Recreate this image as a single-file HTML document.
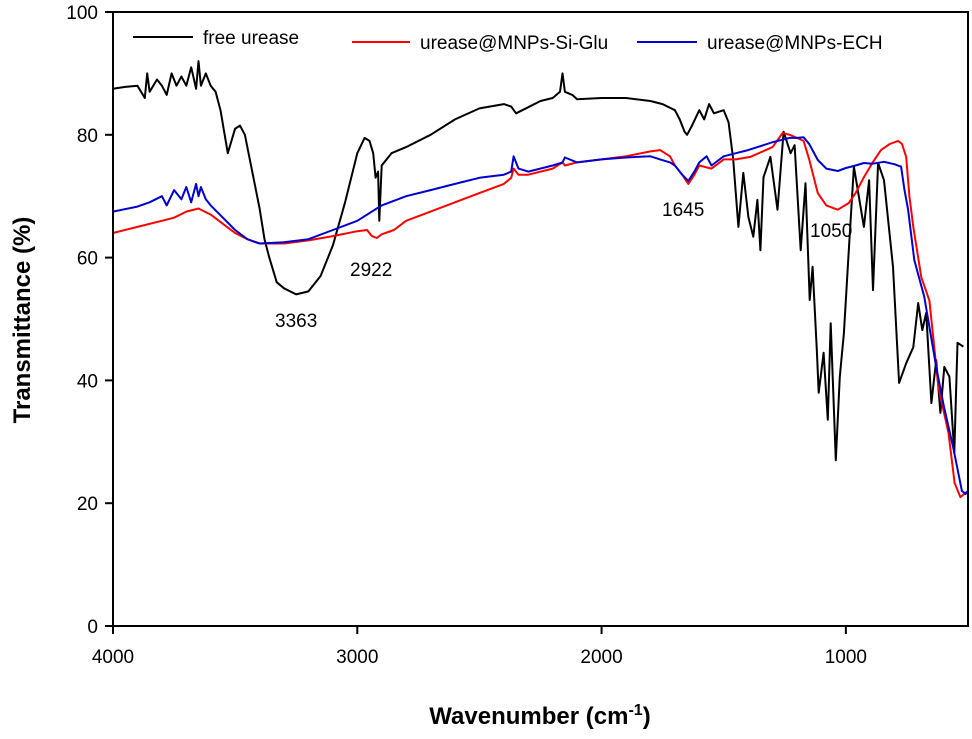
<!DOCTYPE html>
<html><head><meta charset="utf-8"><style>
body{margin:0;background:#fff;}
svg text{font-family:"Liberation Sans",Arial,sans-serif;}
</style></head><body>
<svg id="chart" width="972" height="734" viewBox="0 0 972 734" xmlns="http://www.w3.org/2000/svg">
<g id="plot"></g>
</svg>
<script>
const xTicks=[4000,3000,2000,1000];
const yTicks=[0,20,40,60,80,100];
const blackWn=[4000,3950,3900,3870,3860,3850,3820,3800,3780,3760,3740,3720,3700,3680,3660,3650,3640,3620,3600,3580,3560,3530,3500,3480,3460,3440,3420,3400,3380,3360,3330,3300,3250,3200,3150,3100,3050,3000,2970,2950,2935,2925,2915,2910,2900,2880,2860,2800,2700,2600,2500,2400,2370,2350,2300,2250,2200,2170,2160,2150,2120,2100,2000,1900,1800,1750,1700,1680,1660,1650,1630,1600,1580,1560,1540,1500,1480,1461,1440,1420,1399,1379,1362,1350,1337,1309,1280,1255,1226,1210,1185,1165,1148,1136,1119,1111,1091,1074,1062,1041,1025,1008,988,967,926,905,889,868,844,807,782,753,724,704,687,671,650,630,613,597,576,556,543,519,505];
const blackT=[87.5,87.8,88,86,90,87,89,88,86.5,90,88,89.5,88,91,87.5,92,88,90,88,87,84,77,81,81.5,80,76,72,68,63,60,56,55,54,54.5,57,62,69,77,79.5,79,77,73,74,66,75,76,77,78,80,82.5,84.3,85,84.6,83.5,84.5,85.5,86,87,90,87,86.5,85.8,86,86,85.5,85,84,82.5,80.5,80,81.5,84,82.5,85,83.5,84,82,76,65,73.8,66.6,63.4,69.4,61.2,73.1,76.4,67.8,80.5,77,78.3,61.2,72.1,53.1,58.5,45,38,44.5,33.6,49.3,27,40.6,47.7,61.2,74.8,65,72.6,54.7,75.4,72.6,58.5,39.6,42.8,45.4,52.6,48.2,51,36.3,43.3,34.7,42.2,40.6,28.2,46.1,45.5];
const redWn=[4000,3900,3800,3750,3700,3650,3600,3550,3500,3450,3400,3300,3200,3100,3000,2960,2940,2920,2900,2850,2800,2700,2600,2500,2400,2370,2360,2340,2300,2200,2160,2150,2100,2000,1900,1800,1760,1720,1700,1670,1645,1620,1600,1550,1500,1450,1391,1300,1259,1230,1200,1173,1150,1115,1080,1033,988,960,926,890,856,820,786,770,753,740,724,691,658,621,580,555,531,515,500];
const redT=[64,65,66,66.5,67.5,68,67,65.5,64,63,62.3,62.3,62.8,63.5,64.3,64.5,63.5,63.2,63.8,64.5,66,67.5,69,70.5,72,73,74.5,73.5,73.5,74.5,75.5,75,75.5,76,76.5,77.3,77.5,76.5,75,73.5,72,73.5,75,74.5,76,76,76.4,78,80.3,80,79.5,79,76,70.5,68.5,67.8,68.9,70.5,73.1,75.5,77.5,78.5,79,78.5,76.4,70,65,56.8,53,38.9,31.4,23.3,21,21.5,22];
const blueWn=[4000,3900,3850,3800,3780,3750,3720,3700,3680,3660,3650,3640,3620,3600,3550,3500,3450,3400,3300,3200,3100,3000,2900,2800,2700,2600,2500,2400,2370,2360,2340,2300,2200,2160,2150,2100,2000,1900,1800,1760,1720,1700,1670,1645,1620,1600,1570,1550,1500,1450,1400,1300,1230,1200,1173,1150,1115,1080,1033,1000,960,926,890,844,800,774,760,745,720,679,630,600,560,525,510,500];
const blueT=[67.5,68.3,69,70,68.5,71,69.5,71.5,69,72,70,71.5,69.5,68.5,66.5,64.5,63,62.3,62.5,63,64.5,66,68.5,70,71,72,73,73.5,74,76.5,74.5,74,75,75.5,76.3,75.5,76,76.3,76.5,76,75.5,75,73.5,72.5,74,75.5,76.5,75,76.5,77,77.5,78.8,79.5,79.5,79.6,78.5,75.9,74.5,74.1,74.6,75,75.4,75.3,75.6,75.2,74.8,71,67.8,59.6,53.6,42.2,36,29,22,21.5,22];

const NS='http://www.w3.org/2000/svg';
const L=113,R=968,T=12,B=626;
const sx=w=>L+(4000-w)*(R-L)/3500;
const sy=v=>B-v*(B-T)/100;
const plot=document.getElementById('plot');
function mk(tag,attrs,parent){const e=document.createElementNS(NS,tag);for(const k in attrs)e.setAttribute(k,attrs[k]);(parent||plot).appendChild(e);return e;}

function series(wn,t,color,name){
  const d=wn.map((w,i)=>(i?'L':'M')+sx(w).toFixed(1)+','+sy(t[i]).toFixed(1)).join(' ');
  const p=mk('path',{d:d,fill:'none',stroke:color,'stroke-width':2,'stroke-linejoin':'round'});
  
  
}
series(blackWn,blackT,'#000','free-urease-line');
series(redWn,redT,'#ff0000','si-glu-line');
series(blueWn,blueT,'#0000cc','ech-line');

const frame=mk('rect',{x:L,y:T,width:R-L,height:B-T,fill:'none',stroke:'#000','stroke-width':2});



xTicks.forEach(v=>{
  const tk=mk('line',{x1:sx(v),x2:sx(v),y1:B,y2:B+8,stroke:'#000','stroke-width':2});
  
  
  const tx=mk('text',{x:sx(v),y:B+37,'text-anchor':'middle','font-size':19});
  tx.textContent=v;
  
  
});
yTicks.forEach(v=>{
  const tk=mk('line',{x1:L-8,x2:L,y1:sy(v),y2:sy(v),stroke:'#000','stroke-width':2});
  
  
  const tx=mk('text',{x:L-15,y:sy(v)+7,'text-anchor':'end','font-size':19});
  tx.textContent=v;
  
  
});
</script>
<svg style="position:absolute;left:0;top:0" width="972" height="734">
<text x="540" y="724" text-anchor="middle" font-size="24" font-weight="bold" font-family="Liberation Sans, sans-serif">Wavenumber (cm<tspan dy="-9" font-size="16">-1</tspan><tspan dy="9">)</tspan></text>
<text transform="translate(30,320) rotate(-90)" text-anchor="middle" font-size="24" font-weight="bold" font-family="Liberation Sans, sans-serif">Transmittance (%)</text>
<g font-size="19" font-family="Liberation Sans, sans-serif">
<line x1="133" y1="37" x2="193" y2="37" stroke="#000" stroke-width="2"/><text x="203" y="44">free urease</text>
<line x1="352" y1="42" x2="410" y2="42" stroke="#f00" stroke-width="2"/><text x="420" y="49">urease@MNPs-Si-Glu</text>
<line x1="637" y1="42" x2="697" y2="42" stroke="#00c" stroke-width="2"/><text x="707" y="49">urease@MNPs-ECH</text>
</g>
<g font-size="19" font-family="Liberation Sans, sans-serif">
<text x="275" y="327">3363</text>
<text x="350" y="276">2922</text>
<text x="662" y="216">1645</text>
<text x="810" y="237">1050</text>
</g>
</svg>
</body></html>
